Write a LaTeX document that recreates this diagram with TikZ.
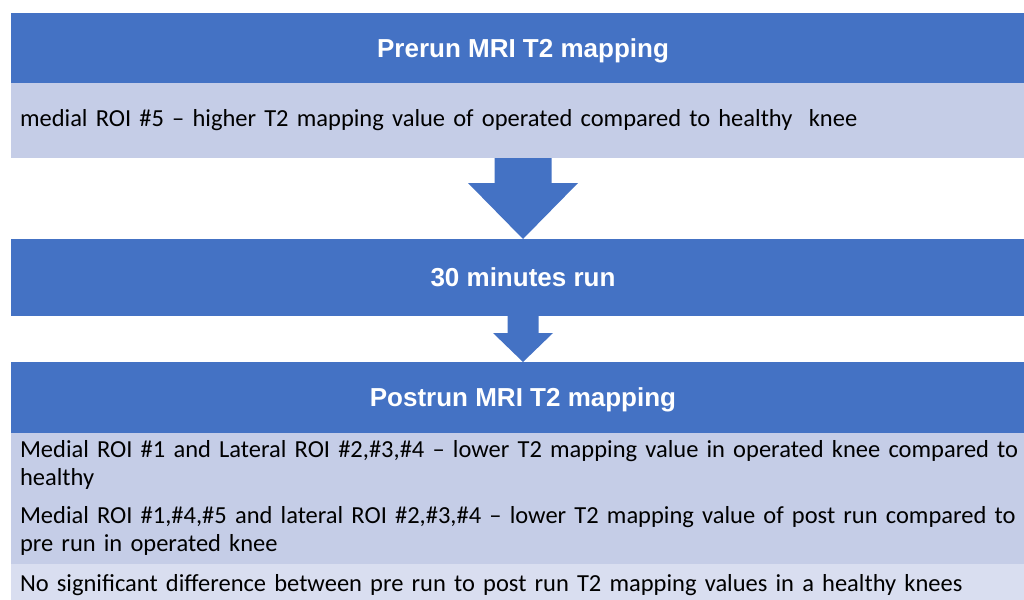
\documentclass[tikz,border=0pt]{standalone}
\usepackage{fontspec}
\setmainfont{Carlito}
\newfontfamily\headfont{Liberation Sans}
\usepackage{tikz}
\usetikzlibrary{positioning}
\usetikzlibrary{calc}

\definecolor{DarkBand}{HTML}{4472C4}
\definecolor{LightBand}{HTML}{C5CDE7}
\definecolor{PaleBand}{HTML}{D9DEF0}

\tikzset{
    head/.style={rectangle, fill=DarkBand, text=white, minimum width=1024pt, inner sep=0pt, outer sep=0pt,
        text depth=0pt, font=\headfont\bfseries\fontsize{26}{30}\selectfont},
    info/.style={rectangle, fill=LightBand, text=black, text width=1060pt, outer sep=0pt,
        inner xsep=9pt, inner ysep=0pt, align=left, font=\fontsize{24.5}{28}\selectfont}
}

\begin{document}
\begin{tikzpicture}[x=1pt, y=-1pt]
        \useasboundingbox (0,0) rectangle (1024,599);
        \clip (0,0) rectangle (1024,599);
        % bands
        \node[head, minimum height=70pt] (pre) at (523,48) {Prerun MRI T2 mapping};
        \node[info, minimum height=75pt, below right=0pt and 0pt of pre.south west] (preinfo)
            {medial ROI \#5 – higher T2 mapping value of operated compared to healthy \ knee};
        \node[head, minimum height=77pt] (run) at (523,277.5) {30 minutes run};
        \node[head, minimum height=71pt] (post) at (523,397.5) {Postrun MRI T2 mapping};
        \node[info, minimum height=65.5pt, below right=-0.5pt and 0pt of post.south west] (rowa)
            {Medial ROI \#1 and Lateral ROI \#2,\#3,\#4 – lower T2 mapping value in operated knee compared to\\healthy};
        \node[info, minimum height=66.5pt, below right=-0.5pt and 0pt of rowa.south west] (rowb)
            {Medial ROI \#1,\#4,\#5 and lateral ROI \#2,\#3,\#4 – lower T2 mapping value of post run compared to\\pre run in operated knee};
        \node[info, fill=PaleBand, minimum height=42pt, below right=0pt and 0pt of rowb.south west] (rowc)
            {No significant difference between pre run to post run T2 mapping values in a healthy knees};
        % arrows
        \fill[DarkBand] ($(pre.south)+(-28.5,75)$) -- ($(pre.south)+(-28.5,100)$)
            -- ($(pre.south)+(-55,100)$) -- (run.north) -- ($(pre.south)+(55,100)$)
            -- ($(pre.south)+(28.5,100)$) -- ($(pre.south)+(28.5,75)$) -- cycle;
        \fill[DarkBand] ($(run.south)+(-15.5,0)$) -- ($(run.south)+(-15.5,17)$)
            -- ($(run.south)+(-30,17)$) -- (post.north) -- ($(run.south)+(30,17)$)
            -- ($(run.south)+(15.5,17)$) -- ($(run.south)+(15.5,0)$) -- cycle;
\end{tikzpicture}
\end{document}
